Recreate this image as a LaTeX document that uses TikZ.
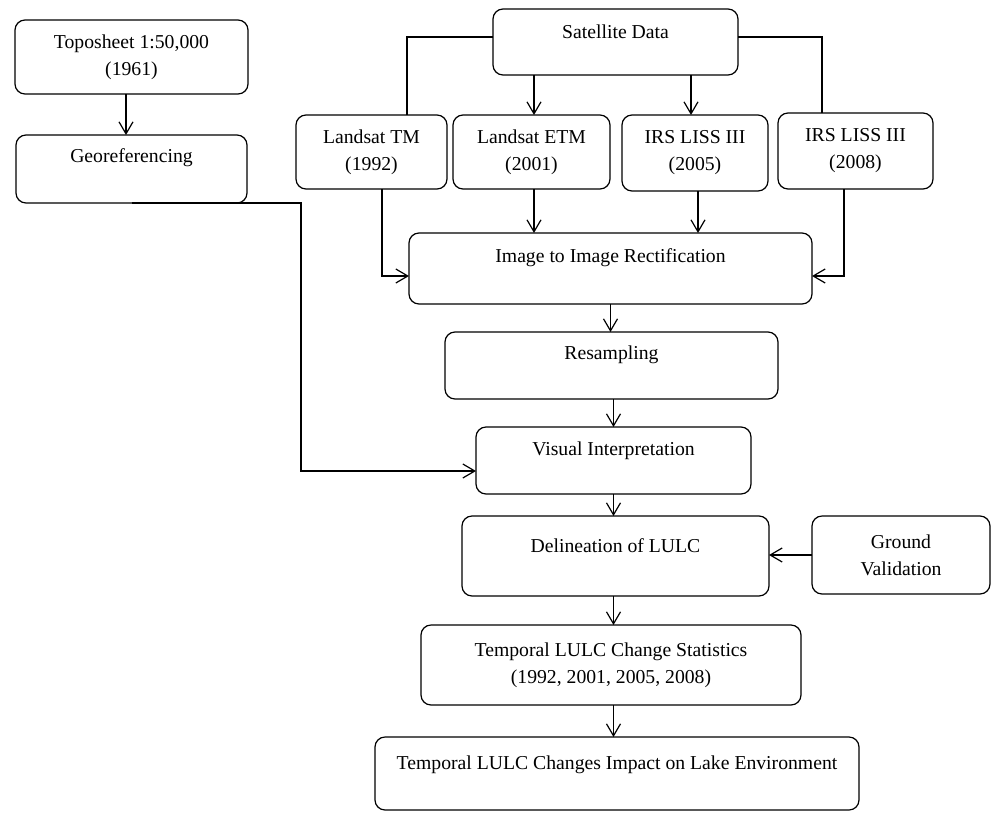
\documentclass[tikz,border=0pt]{standalone}
\usepackage{fontspec}
\setmainfont{Liberation Serif}
\usetikzlibrary{arrows.meta,calc}
\begin{document}
\begin{tikzpicture}[x=1pt,y=-1pt,
  box/.style={draw, line width=1.2pt, rounded corners=10pt, inner sep=0pt, outer sep=0pt},
  txt/.style={font=\fontsize{19.7pt}{27pt}\selectfont, align=center, inner sep=0pt},
  ln/.style={line width=1.2pt},
  arr/.style={line width=1.2pt, -{Straight Barb[length=12pt,width=14pt]}}]
\useasboundingbox (0,0) rectangle (991,812);

% boxes
\node[box, minimum width=233pt, minimum height=74pt] (topo)  at (131.5,57)   {};
\node[box, minimum width=231pt, minimum height=68pt] (geo)   at (131.5,169)  {};
\node[box, minimum width=245pt, minimum height=66pt] (sat)   at (615.5,42)   {};
\node[box, minimum width=151pt, minimum height=74pt] (tm)    at (371.5,152)  {};
\node[box, minimum width=157pt, minimum height=74pt] (etm)   at (531.5,152)  {};
\node[box, minimum width=146pt, minimum height=76pt] (irsa)  at (695,153)    {};
\node[box, minimum width=155pt, minimum height=76pt] (irsb)  at (855.5,151)  {};
\node[box, minimum width=403pt, minimum height=71pt] (rect)  at (610.5,268.5){};
\node[box, minimum width=333pt, minimum height=67pt] (res)   at (611.5,365.5){};
\node[box, minimum width=275pt, minimum height=67pt] (vis)   at (613.5,460.5){};
\node[box, minimum width=307pt, minimum height=80pt] (del)   at (615.5,556)  {};
\node[box, minimum width=178pt, minimum height=78pt] (gv)    at (901,555)    {};
\node[box, minimum width=380pt, minimum height=80pt] (stats) at (611,665)    {};
\node[box, minimum width=484pt, minimum height=73pt] (final) at (617,773.5)  {};

% texts
\node[txt] (topo-t)  at (topo.center) {Toposheet 1:50,000\\(1961)};
\node[txt] (geo-t)   at ($(geo.center)+(0,-11)$) {Georeferencing};
\node[txt] (sat-t)   at ($(sat.center)+(0,-10)$) {Satellite Data};
\node[txt] (tm-t)    at (tm.center) {Landsat TM\\(1992)};
\node[txt] (etm-t)   at (etm.center) {Landsat ETM\\(2001)};
\node[txt] (irsa-t)  at (irsa.center) {IRS LISS III\\(2005)};
\node[txt] (irsb-t)  at (irsb.center) {IRS LISS III\\(2008)};
\node[txt] (rect-t)  at ($(rect.center)+(0,-10.5)$) {Image to Image Rectification};
\node[txt] (res-t)   at ($(res.center)+(0,-10.5)$) {Resampling};
\node[txt] (vis-t)   at ($(vis.center)+(0,-9.5)$) {Visual Interpretation};
\node[txt] (del-t)   at ($(del.center)+(0,-10)$) {Delineation of LULC};
\node[txt] (gv-t)    at (gv.center) {Ground\\Validation};
\node[txt] (stats-t) at (stats.center) {Temporal LULC Change Statistics\\(1992, 2001, 2005, 2008)};
\node[txt] (final-t) at ($(final.center)+(0,-8.5)$) {Temporal LULC Changes Impact on Lake Environment};

% helper coordinates
\coordinate (c-topo) at ([xshift=-5.5pt]topo.south);
\coordinate (c-etm)  at ([xshift=2.5pt]etm.north);
\coordinate (c-irsa) at ([xshift=-4pt]irsa.north);
\coordinate (c-irsa2) at ([xshift=3pt]irsa.south);
\coordinate (c-tmtop) at ([xshift=35.5pt]tm.north);
\coordinate (c-irsbtop) at ([xshift=-33.5pt]irsb.north);
\coordinate (c-tmbot) at ([xshift=10.5pt]tm.south);
\coordinate (c-irsbbot) at ([xshift=-11.5pt]irsb.south);
\coordinate (c-vis) at ([yshift=-10.5pt]vis.west);

% connectors
\draw[arr] (c-topo) -- (c-topo |- geo.north);
\draw[ln] ([yshift=5pt]sat.west) -| (c-tmtop);
\draw[ln] ([yshift=5pt]sat.east) -| (c-irsbtop);
\draw[arr] (c-etm |- sat.south) -- (c-etm);
\draw[arr] (c-irsa |- sat.south) -- (c-irsa);
\draw[arr] (c-etm |- etm.south) -- (c-etm |- rect.north);
\draw[arr] (c-irsa2) -- (c-irsa2 |- rect.north);
\draw[arr] (c-tmbot) |- ([yshift=-7.5pt]rect.west);
\draw[arr] (c-irsbbot) |- ([yshift=-7.5pt]rect.east);
\draw[arr] (rect.south) -- (rect.south |- res.north);
\draw[arr] (vis.north |- res.south) -- (vis.north);
\draw[arr] (vis.south) -- (vis.south |- del.north);
\draw[arr] (geo.south) -- ++(169.5,0) |- (c-vis);
\draw[arr] (gv.west) -- (gv.west -| del.east);
\draw[arr] (del.south -| vis.south) -- (stats.north -| vis.south);
\draw[arr] (stats.south -| vis.south) -- (final.north -| vis.south);
\end{tikzpicture}
\end{document}
